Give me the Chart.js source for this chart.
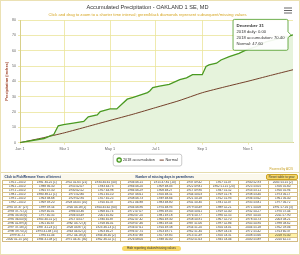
<!DOCTYPE html>
<html>
<head>
<meta charset="utf-8">
<script src="https://cdn.jsdelivr.net/npm/chart.js@4"></script>
<style>
  body { margin: 0; background: #fff; font-family: "Liberation Sans", Arial, sans-serif; }
  #wrap { position: relative; width: 300px; height: 255px; box-sizing: border-box; border: 1px solid #ebe1b4; overflow: hidden; }
  #box { position: relative; width: 298px; height: 171px; border-bottom: 1px solid #e6dcae; }
  #powered { position: absolute; right: 6px; top: 166px; font-size: 3px; color: #c9a227; }
  table { position: absolute; left: 1px; top: 173px; width: 296px; border-collapse: collapse; font-size: 3.1px; color: #333; table-layout: fixed; }
  td { border: 1px solid #d3bc84; height: 3.1px; line-height: 3.1px; padding: 0; text-align: center; white-space: nowrap; overflow: hidden; }
  tr.head td { height: 4.5px; line-height: 4.5px; font-weight: bold; color: #1f3a6b; border: none; background: #fbf8ec; }
  td.cur { background: #fff2a8; }
  .btn { display: inline-block; background: #f7d86a; border: 0.6px solid #c9a227; border-radius: 2px; padding: 0 2px; line-height: 4px; color: #333; font-weight: normal; }
  #hide { position: absolute; left: 121px; top: 245px; width: 59px; height: 5px; background: #f7d86a; border-radius: 3px; font-size: 3px; line-height: 5px; text-align: center; color: #333; }
</style>
</head>
<body>
<div id="wrap">
  <div id="box"><canvas id="my-chart"></canvas></div>
  <div id="powered">Powered by ACIS</div>
  <table id="years"></table>
  <div id="hide">Hide reporting station/missing values</div>
</div>
<script>
// day of year (Jan 1 = 0) and accumulated 2018 precipitation
const accDays = [0, 32, 41, 45, 51, 58, 71, 85, 91, 103, 107, 120, 129, 136, 143, 151, 160, 170, 173, 177, 186, 199, 213, 222, 230, 243, 248, 252, 262, 268, 279, 292, 301, 314, 328, 345, 358, 364];
const accValues = [0, 2.7, 4.6, 5.3, 11.0, 11.7, 12.8, 13.8, 16.8, 18.1, 20.3, 22.0, 22.0, 25.2, 28.4, 29.5, 31.0, 32.7, 33.7, 35.9, 36.9, 38.0, 41.2, 42.3, 44.4, 44.4, 49.7, 50.8, 51.9, 54.0, 56.2, 58.3, 60.4, 62.6, 65.8, 67.9, 69.4, 70.4];

// normal accumulation at month starts
const normalDays = [0, 31, 59, 90, 120, 151, 181, 212, 243, 273, 304, 334, 364];
const normalValues = [0, 3.2, 6.4, 10.5, 14.5, 18.6, 22.9, 27.4, 32.6, 36.4, 40.1, 43.9, 47.6];

const tickDays = [0, 59, 120, 181, 243, 304];
const tickLabels = ['Jan 1', 'Mar 1', 'May 1', 'Jul 1', 'Sep 1', 'Nov 1'];

const tableRows = [
  '1951 - 2010|1981 34.25 (1)|1952 41.65 (21)|1934 44.61 (40)|1946 46.15|1915 47.81 (10)|1937 49.42|1957 51.07|1940 52.93|2005 55.15 (2)',
  '1961 - 2010|1988 36.50|1955 42.07|1933 44.73|1966 46.20|1909 48.03|1922 49.81|1962 51.15 (20)|1925 53.05|1926 55.60',
  '1971 - 2010|1965 37.50|1930 42.52|1957 44.98|1984 46.29|1908 48.27|1917 49.90|1947 51.52|1953 53.11|1950 55.94',
  '1981 - 2010|1980 38.11 (1)|1975 42.80|1951 45.10|1947 46.61|1920 48.51|1944 50.03|1959 51.78|1938 53.40|1973 56.17',
  '1991 - 2010|1963 38.68|1929 42.94|1927 45.25|1948 46.73|1939 48.66|1921 50.18|1912 51.93|1936 53.62|1961 56.40',
  '1992 - 2010|1969 39.20|1928 43.05 (10)|1910 45.37|1911 46.88|1983 48.80|1941 50.30|1931 52.07|1935 53.81|1977 56.72',
  '1992 47.37 (27)|1999 39.54|1916 43.18 (1)|1944 45.62 (60)|1904 46.96|1974 48.93|1979 50.49|1989 52.21|1971 54.08|1991 57.16 (3)',
  '1993 37.71 (2)|1959 40.01|1986 43.36|1968 45.74|1972 47.07|1996 49.05|1943 50.61|1919 52.40|1932 54.27|1970 57.44',
  '1994 33.56 (6)|1977 40.35|1906 43.49|2001 45.82|1960 47.20|1981 49.18|1976 50.77|1990 52.55|1907 54.50|2011 57.90',
  '1995 36.04 (6)|1905 40.51 (2)|1917 43.57|1930 45.87|1942 47.32|1964 49.30|1958 50.91|1967 52.70|1978 54.73|2003 58.21',
  '1996 41.89 (4)|1901 40.67|1982 43.72 (3)|1918 46.01|1949 47.46|1985 49.44|1987 51.06|1997 52.86|1945 54.94|1998 58.62',
  '1997 37.58 (2)|1987 41.23 (1)|1928 43.87 (1)|1923 46.13 (1)|1956 47.61|1914 49.58|1954 51.20|1924 53.01|2004 55.18|1952 59.06',
  '1998 39.74 (2)|1993 41.38 (15)|1943 44.02 (2)|1903 46.27|1994 47.75|1953 49.71|1962 51.34|1909 53.16|1972 55.42|1913 60.37',
  '1999 31.71|1994 41.46|1972 44.18 (4)|1946 46.40 (2)|1918 47.88|1927 49.85|1913 51.49|1920 53.31|2008 55.66|2018 70.40',
  '2000 41.15 (20)|1984 41.58 (2)|1975 44.31 (30)|1962 46.52 (1)|1926 48.04|1938 50.00|1950 51.63|1945 53.46|2000 55.89|2010 62.15'
];

// year table
const tbl = document.getElementById('years');
let html = '<tr class="head"><td colspan="3" style="text-align:left;padding-left:2px">Click to Pick/Remove Years of Interest</td>' +
  '<td colspan="5">Number of missing days in parentheses</td>' +
  '<td colspan="2" style="text-align:right"><span class="btn">Reset table to year</span></td></tr>';
tableRows.forEach((r) => {
  html += '<tr>' + r.split('|').map(c => '<td' + (c.indexOf('2018') === 0 ? ' class="cur"' : '') + '>' + c + '</td>').join('') + '</tr>';
});
tbl.innerHTML = html;

Chart.Tooltip.positioners.first = function (items) {
  if (!items.length) return false;
  return { x: items[0].element.x, y: items[0].element.y };
};

const legendBox = {
  id: 'legendBox',
  afterDraw(chart) {
    const boxes = chart.legend.legendHitBoxes;
    const ctx = chart.ctx;
    ctx.save();
    if (boxes && boxes.length) {
      const l = Math.min(...boxes.map(b => b.left)) - 4;
      const r = Math.max(...boxes.map(b => b.left + b.width)) + 4;
      const t = boxes[0].top - 4;
      const h = boxes[0].height + 8;
      ctx.strokeStyle = '#aaa';
      ctx.lineWidth = 0.6;
      ctx.beginPath();
      ctx.roundRect(l, t, r - l, h, 2);
      ctx.stroke();
    }
    // menu icon
    ctx.strokeStyle = '#666';
    ctx.lineWidth = 1;
    [7, 9.5, 12].forEach(y => {
      ctx.beginPath();
      ctx.moveTo(283, y);
      ctx.lineTo(291, y);
      ctx.stroke();
    });
    ctx.restore();
  }
};

const ctx = document.getElementById('my-chart').getContext('2d');
const chart = new Chart(ctx, {
  type: 'line',
  data: {
    datasets: [
      {
        label: '2018 accumulation',
        data: accDays.map((d, i) => ({ x: d, y: accValues[i] })),
        borderColor: '#4a9a22',
        backgroundColor: '#e6f3dc',
        borderWidth: 1.3,
        fill: 'origin',
        pointRadius: 0,
        pointHoverRadius: 1.5,
        pointStyle: 'circle',
        tension: 0
      },
      {
        label: 'Normal',
        data: normalDays.map((d, i) => ({ x: d, y: normalValues[i] })),
        borderColor: '#74402a',
        backgroundColor: '#74402a',
        borderWidth: 1,
        fill: false,
        pointRadius: 0,
        pointHoverRadius: 0,
        pointStyle: 'line',
        tension: 0.2
      }
    ]
  },
  options: {
    responsive: true,
    maintainAspectRatio: false,
    animation: false,
    layout: { padding: { left: 1, right: 6, top: 0, bottom: 0 } },
    interaction: { mode: 'nearest', intersect: false },
    plugins: {
      filler: { drawTime: 'beforeDatasetsDraw' },
      title: {
        display: true,
        text: 'Accumulated Precipitation - OAKLAND 1 SE, MD',
        color: '#333',
        font: { size: 5.6, family: 'Liberation Sans', weight: 'normal' },
        padding: { top: 3, bottom: 1.5 }
      },
      subtitle: {
        display: true,
        text: 'Click and drag to zoom to a shorter time interval; green/black diamonds represent subsequent/missing values',
        color: '#d6a622',
        font: { size: 4.1, family: 'Liberation Sans' },
        padding: { top: 0, bottom: 3 }
      },
      legend: {
        position: 'bottom',
        labels: {
          usePointStyle: true,
          boxWidth: 4,
          boxHeight: 3,
          padding: 5,
          color: '#333',
          font: { size: 3.8, family: 'Liberation Sans' }
        }
      },
      tooltip: {
        position: 'first',
        xAlign: 'right',
        yAlign: 'center',
        backgroundColor: 'rgba(255,255,255,0.92)',
        borderColor: '#4a9a22',
        borderWidth: 0.8,
        titleColor: '#333',
        bodyColor: '#333',
        titleFont: { size: 4.4, weight: 'bold', family: 'Liberation Sans' },
        bodyFont: { size: 4.2, family: 'Liberation Sans' },
        titleMarginBottom: 1.5,
        bodySpacing: 1,
        padding: 3.5,
        caretSize: 3,
        cornerRadius: 1.5,
        displayColors: false,
        callbacks: {
          title: () => 'December 31',
          label: (item) => item.datasetIndex === 0
            ? ['2018 daily: 0.00', '2018 accumulation: ' + item.parsed.y.toFixed(2)]
            : 'Normal: ' + item.parsed.y.toFixed(2)
        }
      }
    },
    scales: {
      x: {
        type: 'linear',
        min: 0,
        max: 364,
        afterBuildTicks: (scale) => { scale.ticks = tickDays.map(v => ({ value: v })); },
        ticks: {
          autoSkip: false,
          maxRotation: 0,
          color: '#666',
          font: { size: 3.8, family: 'Liberation Sans' },
          padding: 2,
          callback: (v) => tickLabels[tickDays.indexOf(v)]
        },
        grid: { color: '#ebe49a', lineWidth: 0.8, drawTicks: true, tickLength: 2 },
        border: { color: '#d8d08a' }
      },
      y: {
        min: 0,
        max: 80,
        afterFit: (scale) => { scale.width = 18; },
        ticks: {
          stepSize: 10,
          color: '#666',
          font: { size: 3.6, family: 'Liberation Sans' },
          padding: 2
        },
        title: {
          display: true,
          text: 'Precipitation (inches)',
          color: '#a0442a',
          font: { size: 3.8, family: 'Liberation Sans', weight: 'bold' },
          padding: { top: 3, bottom: 0 }
        },
        grid: { color: '#ebe49a', lineWidth: 0.8, tickLength: 2 },
        border: { color: '#d8d08a' }
      }
    }
  },
  plugins: [legendBox]
});

chart.tooltip.setActiveElements([
  { datasetIndex: 0, index: accDays.length - 1 },
  { datasetIndex: 1, index: normalDays.length - 1 }
], { x: 290, y: 35 });
chart.update();
</script>
</body>
</html>
